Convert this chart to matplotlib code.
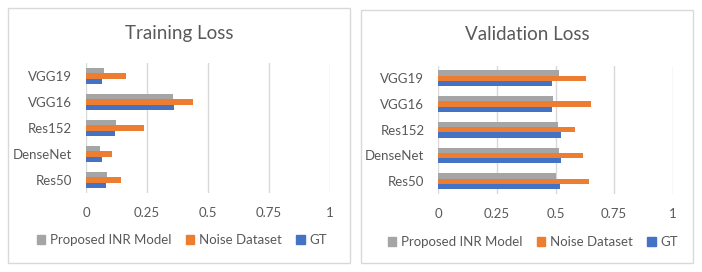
import matplotlib.pyplot as plt
import numpy as np
from matplotlib.patches import Rectangle, Patch

plt.rcParams['font.family'] = ['Lato', 'DejaVu Sans']

models = ['Res50', 'DenseNet', 'Res152', 'VGG16', 'VGG19']
series = ['Proposed INR Model', 'Noise Dataset', 'GT']

train_inr = [0.086, 0.057, 0.122, 0.358, 0.074]
train_noise = [0.145, 0.105, 0.236, 0.440, 0.163]
train_gt = [0.081, 0.064, 0.118, 0.361, 0.064]

val_inr = [0.501, 0.516, 0.511, 0.491, 0.513]
val_noise = [0.644, 0.616, 0.583, 0.653, 0.632]
val_gt = [0.518, 0.522, 0.522, 0.485, 0.485]

xticks = [0, 0.25, 0.5, 0.75, 1]
xticklabels = ['0', '0.25', '0.5', '0.75', '1']

colors = ['#a5a5a5', '#ed7d31', '#4472c4']
txt = '#595959'
grid_c = '#d9d9d9'

W, H = 702, 272
fig = plt.figure(figsize=(W / 100, H / 100), dpi=100)


def px_axes(x0, x1, y0, y1):
    # pixel coords (top-left origin) -> figure fraction
    return fig.add_axes([x0 / W, 1 - y1 / H, (x1 - x0) / W, (y1 - y0) / H])


def draw_panel(ax, vals, title, box, title_xy, legend_xy):
    y = np.arange(len(models))
    h = 0.205
    for i, (v, c) in enumerate(zip(vals, colors)):
        ax.barh(y + (1 - i) * h, v, h, color=c, label=series[i])
    ax.set_xlim(0, 1)
    ax.set_ylim(-0.5, len(models) - 0.5)
    ax.set_xticks(xticks)
    ax.set_xticklabels(xticklabels)
    ax.set_yticks(y)
    ax.set_yticklabels(models)
    ax.tick_params(length=0, labelsize=9.5, colors=txt, pad=10)
    ax.tick_params(axis='x', pad=10)
    ax.grid(axis='x', color=grid_c, linewidth=1)
    ax.set_axisbelow(True)
    for s in ax.spines.values():
        s.set_visible(False)

    bx0, by0, bx1, by1 = box
    fig.patches.append(Rectangle((bx0 / W, 1 - by1 / H), (bx1 - bx0) / W, (by1 - by0) / H,
                                 transform=fig.transFigure, fill=False,
                                 edgecolor=grid_c, linewidth=1))
    fig.text(title_xy[0] / W, 1 - title_xy[1] / H, title, fontsize=13.5, color=txt,
             ha='center', va='center')
    handles = [Patch(color=c) for c in colors]
    fig.legend(handles, series, loc='center', ncol=3, frameon=False,
               bbox_to_anchor=(legend_xy[0] / W, 1 - legend_xy[1] / H),
               fontsize=9.5, labelcolor=txt, handlelength=0.65, handleheight=0.65,
               handletextpad=0.35, columnspacing=1.1)


ax1 = px_axes(86, 330, 63, 193)
draw_panel(ax1, [train_inr, train_noise, train_gt], 'Training Loss',
           (8, 8, 350, 263), (179, 33), (182, 240))

ax2 = px_axes(438.3, 672.7, 65.5, 194)
draw_panel(ax2, [val_inr, val_noise, val_gt], 'Validation Loss',
           (361, 10, 693, 263), (527, 35), (533, 242))

fig.savefig('out.png', dpi=100)
